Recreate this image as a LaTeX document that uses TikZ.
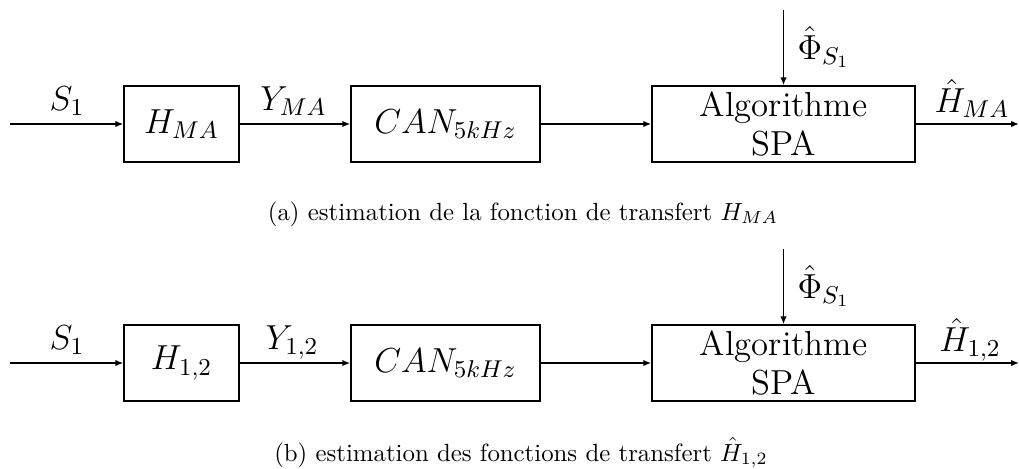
\RequirePackage{fix-cm}
\documentclass[tikz,border=0pt]{standalone}
\usetikzlibrary{arrows.meta}
\begin{document}
\begin{tikzpicture}[x=0.403pt,y=-0.403pt,
  blk/.style={draw, line width=0.6pt, inner sep=0pt, minimum height=30.6pt, align=center,
              font=\fontsize{14}{15.5}\selectfont},
  lbl/.style={inner sep=0pt, font=\fontsize{14}{15.5}\selectfont},
  arr/.style={line width=0.6pt, -{Latex[length=3.2pt,width=2.6pt]}},
  captxt/.style={inner sep=0pt, font=\fontsize{10}{12}\selectfont}]
\useasboundingbox (0,0) rectangle (1019,468);

% ---------- (a) ----------
\coordinate (ina) at (10,124);
\node[blk, minimum width=46.3pt] (ha) at (181.5,124) {$H_{MA}$};
\node[blk, minimum width=76.2pt] (cana) at (445.5,124) {$CAN_{5kHz}$};
\node[blk, minimum width=106pt] (alga) at (783.5,124) {Algorithme\\SPA};
\coordinate (phia) at (783.5,10);
\coordinate (outa) at (1019,124);
\draw[arr] (ina) -- (ha);
\draw[arr] (ha) -- (cana);
\draw[arr] (cana) -- (alga);
\draw[arr] (phia) -- (alga);
\draw[arr] (alga) -- (outa);
\node[lbl, anchor=base] (s1a) at (67,110) {$S_1$};
\node[lbl, anchor=base] (ya) at (293.5,110) {$Y_{MA}$};
\node[lbl, anchor=base west] (pha) at (797,59) {$\hat{\Phi}_{S_1}$};
\node[lbl, anchor=base] (hha) at (972,112) {$\hat{H}_{MA}$};
\node[captxt] (capa) at (523,214) {(a) estimation de la fonction de transfert $H_{MA}$};

% ---------- (b) ----------
\coordinate (inb) at (10,363);
\node[blk, minimum width=46.3pt] (hb) at (181.5,363) {$H_{1,2}$};
\node[blk, minimum width=76.2pt] (canb) at (445.5,363) {$CAN_{5kHz}$};
\node[blk, minimum width=106pt] (algb) at (783.5,363) {Algorithme\\SPA};
\coordinate (phib) at (783.5,249);
\coordinate (outb) at (1019,363);
\draw[arr] (inb) -- (hb);
\draw[arr] (hb) -- (canb);
\draw[arr] (canb) -- (algb);
\draw[arr] (phib) -- (algb);
\draw[arr] (algb) -- (outb);
\node[lbl, anchor=base] (s1b) at (67,349) {$S_1$};
\node[lbl, anchor=base] (yb) at (292,349) {$Y_{1,2}$};
\node[lbl, anchor=base west] (phb) at (797,298) {$\hat{\Phi}_{S_1}$};
\node[lbl, anchor=base] (hhb) at (970,351) {$\hat{H}_{1,2}$};
\node[captxt] (capb) at (521,453) {(b) estimation des fonctions de transfert $\hat{H}_{1,2}$};
\end{tikzpicture}
\end{document}
